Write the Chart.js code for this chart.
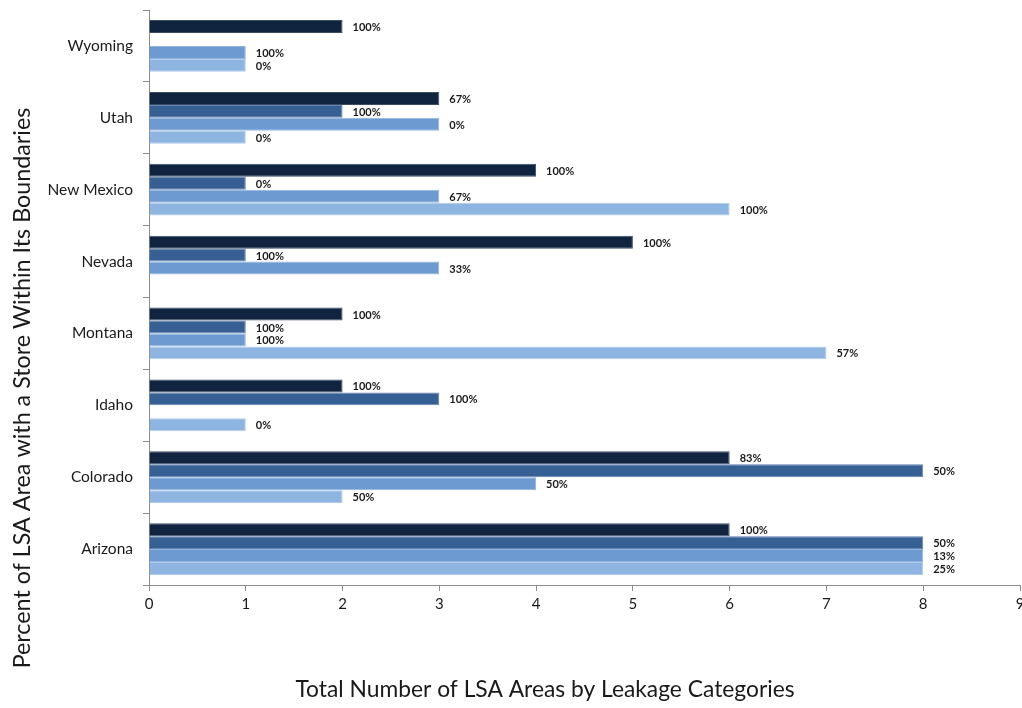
<!DOCTYPE html>
<html>
<head>
<meta charset="utf-8">
<script src="https://cdn.jsdelivr.net/npm/chart.js@4/dist/chart.umd.min.js"></script>
<style>
  html, body { margin: 0; padding: 0; background: #ffffff; }
  #wrap { width: 1022px; height: 708px; position: relative; }
</style>
</head>
<body>
<div id="wrap"><canvas id="c" width="1022" height="708"></canvas></div>
<script>
// States, listed top to bottom
const states = ['Wyoming', 'Utah', 'New Mexico', 'Nevada', 'Montana', 'Idaho', 'Colorado', 'Arizona'];

// Number of LSA areas per leakage category (null = no areas in that category)
const category1 = [2, 3, 4, 5, 2, 2, 6, 6];
const category2 = [null, 2, 1, 1, 1, 3, 8, 8];
const category3 = [1, 3, 3, 3, 1, null, 4, 8];
const category4 = [1, 1, 6, null, 7, 1, 2, 8];

// Percent of those areas with a store within its boundaries
const pct1 = ['100%', '67%', '100%', '100%', '100%', '100%', '83%', '100%'];
const pct2 = [null, '100%', '0%', '100%', '100%', '100%', '50%', '50%'];
const pct3 = ['100%', '0%', '67%', '33%', '100%', null, '50%', '13%'];
const pct4 = ['0%', '0%', '100%', null, '57%', '0%', '50%', '25%'];

// Tick values along the count axis
const xTicks = [0, 1, 2, 3, 4, 5, 6, 7, 8, 9];

const xTitle = 'Total Number of LSA Areas by Leakage Categories';
const yTitle = 'Percent of LSA Area with a Store Within Its Boundaries';

const colors = ['#10243F', '#366093', '#6D9BD1', '#8EB4E2'];
const edges = ['#3c4d66', '#6384b0', '#93b5de', '#b0cbec'];
const seriesValues = [category1, category2, category3, category4];
const seriesPct = [pct1, pct2, pct3, pct4];

const FONT = 'Lato, "Open Sans", sans-serif';
const axisGrey = '#8c8c8c';

// Draws the percentage text just past the end of each bar
const pctLabels = {
  id: 'pctLabels',
  afterDatasetsDraw(chart) {
    const ctx = chart.ctx;
    ctx.save();
    ctx.font = 'bold 11px ' + FONT;
    ctx.fillStyle = '#1a1a1a';
    ctx.textAlign = 'left';
    ctx.textBaseline = 'middle';
    chart.data.datasets.forEach((ds, di) => {
      const meta = chart.getDatasetMeta(di);
      meta.data.forEach((bar, i) => {
        const txt = seriesPct[di][i];
        if (ds.data[i] == null || txt == null) return;
        ctx.fillText(txt, bar.x + 10, bar.y + 1);
      });
    });
    ctx.restore();
  }
};

// Axis titles, placed relative to the canvas
const axisTitles = {
  id: 'axisTitles',
  afterDraw(chart) {
    const ctx = chart.ctx;
    ctx.save();
    ctx.fillStyle = '#1a1a1a';
    ctx.textAlign = 'center';
    ctx.textBaseline = 'middle';
    ctx.font = '22.8px ' + FONT;
    ctx.fillText(xTitle, 545, 690);
    ctx.translate(22, 388);
    ctx.rotate(-Math.PI / 2);
    ctx.font = '23.3px ' + FONT;
    ctx.fillText(yTitle, 0, 0);
    ctx.restore();
  }
};

new Chart(document.getElementById('c'), {
  type: 'bar',
  data: {
    labels: states,
    datasets: seriesValues.map((vals, k) => ({
      label: 'Category ' + (k + 1),
      data: vals,
      backgroundColor: colors[k],
      borderColor: edges[k],
      borderWidth: 1,
      borderSkipped: 'left',
      categoryPercentage: 0.72,
      barPercentage: 1.0
    }))
  },
  options: {
    indexAxis: 'y',
    responsive: false,
    animation: false,
    devicePixelRatio: 1,
    layout: { padding: { top: 10, right: 2, bottom: 0, left: 0 } },
    plugins: {
      legend: { display: false },
      tooltip: { enabled: false }
    },
    scales: {
      x: {
        type: 'linear',
        min: 0,
        max: 9,
        afterBuildTicks(scale) { scale.ticks = xTicks.map(v => ({ value: v })); },
        afterFit(scale) { scale.height = 123; scale.paddingRight = 0; scale.paddingLeft = 0; },
        grid: { display: true, drawOnChartArea: false, drawTicks: true, tickLength: 6, color: axisGrey },
        border: { display: true, color: axisGrey, width: 1 },
        ticks: { color: '#1a1a1a', font: { family: FONT, size: 15 }, padding: 4 },
        title: { display: false }
      },
      y: {
        type: 'category',
        offset: true,
        afterFit(scale) { scale.width = 149; scale.paddingTop = 0; scale.paddingBottom = 0; },
        grid: { display: true, offset: true, drawOnChartArea: false, drawTicks: true, tickLength: 6, color: axisGrey },
        border: { display: true, color: axisGrey, width: 1 },
        ticks: { color: '#1a1a1a', font: { family: FONT, size: 15.5 }, padding: 10 },
        title: { display: false }
      }
    }
  },
  plugins: [pctLabels, axisTitles]
});
</script>
</body>
</html>
